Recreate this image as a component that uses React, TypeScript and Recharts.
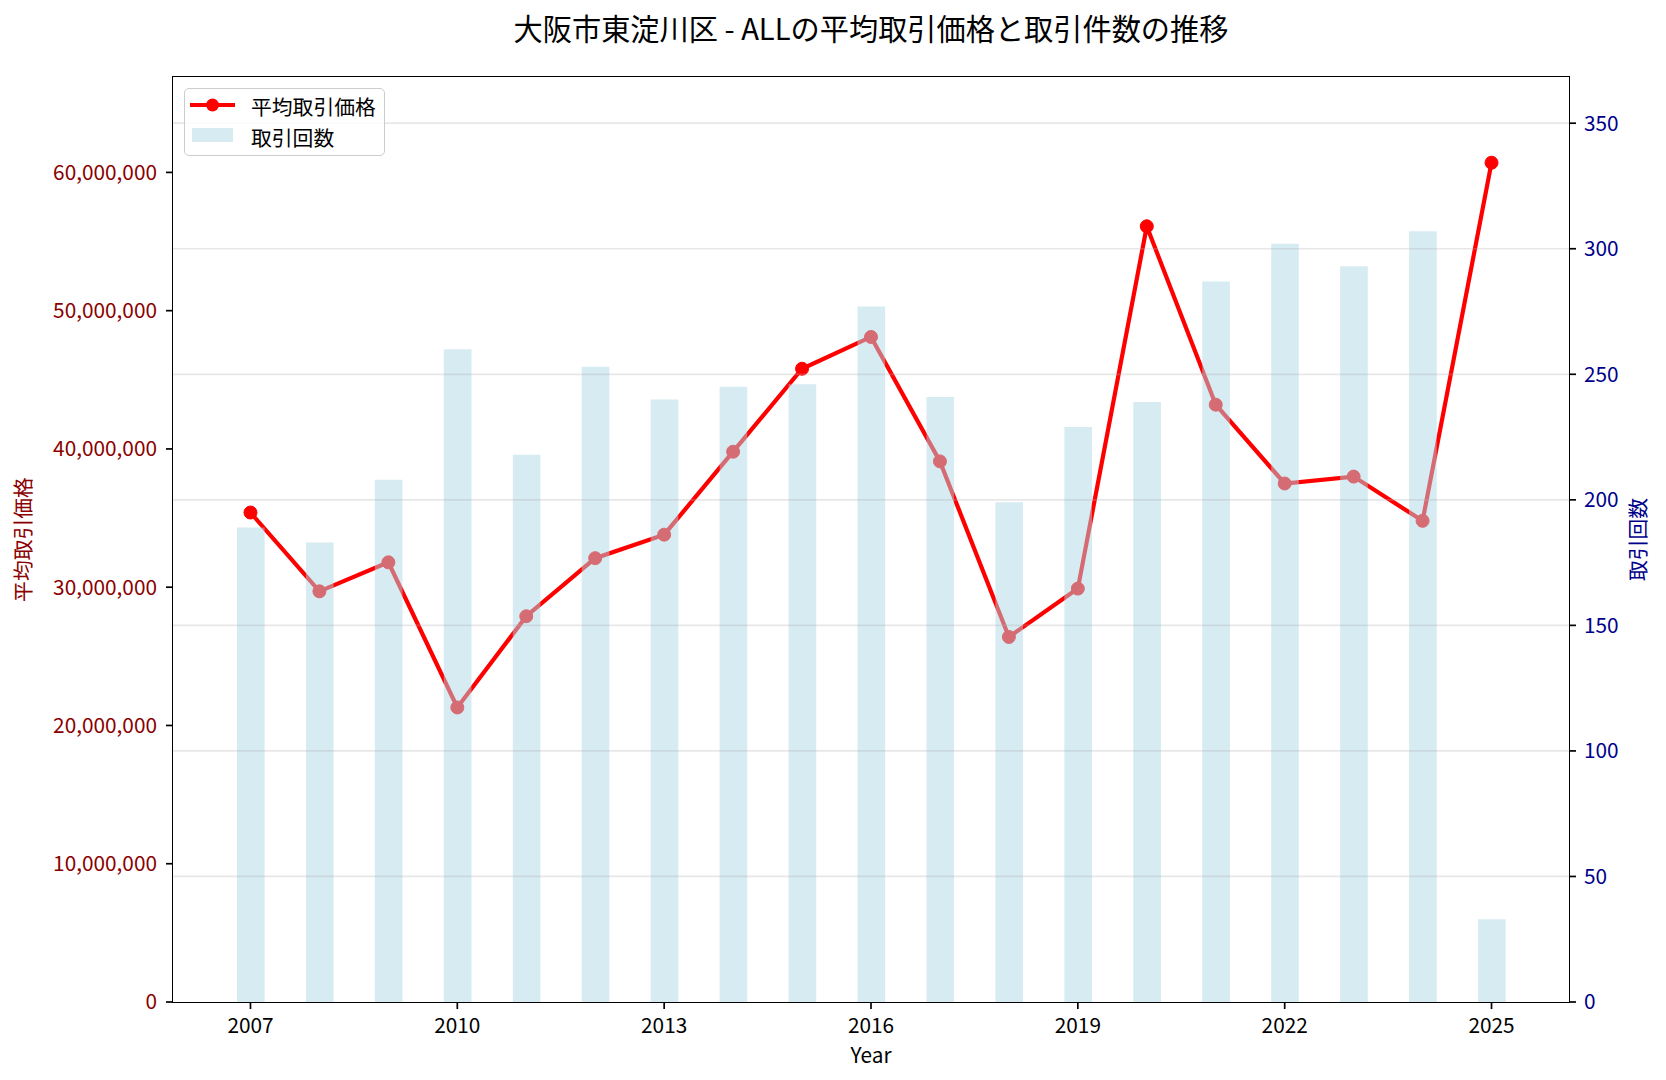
import React from 'react';
import { ComposedChart, Line, Bar, XAxis, YAxis, ReferenceLine } from 'recharts';

const years = ['2007', '2008', '2009', '2010', '2011', '2012', '2013', '2014', '2015', '2016', '2017', '2018', '2019', '2020', '2021', '2022', '2023', '2024', '2025'];
const avgPrices = [35400000, 29700000, 31800000, 21300000, 27900000, 32100000, 33800000, 39800000, 45800000, 48100000, 39100000, 26400000, 29900000, 56100000, 43200000, 37500000, 38000000, 34800000, 60700000];
const counts = [189, 183, 208, 260, 218, 253, 240, 245, 246, 277, 241, 199, 229, 239, 287, 302, 293, 307, 33];
const xTickLabels = ['2007', '2010', '2013', '2016', '2019', '2022', '2025'];
const priceTicks = [0, 10000000, 20000000, 30000000, 40000000, 50000000, 60000000];
const countTicks = [0, 50, 100, 150, 200, 250, 300, 350];

const TITLE = '大阪市東淀川区 - ALLの平均取引価格と取引件数の推移';
const PRICE_LABEL = '平均取引価格';
const COUNT_LABEL = '取引回数';

const data = years.map((y, i) => ({ year: y, price: avgPrices[i], count: counts[i] }));

const W = 1650;
const H = 1064;
const PL = 165;
const PT = 69;
const PR = 1561;
const PB = 994;
const FS = 20.8;
const FONT = '"Noto Sans CJK JP", "Noto Sans", sans-serif';

const barProps: any = { zIndex: 1500 };
const gridProps: any = { zIndex: 1510 };

export default function App() {
  return (
    <div style={{ position: 'relative', width: W, height: H, fontFamily: FONT, background: '#fff' }}>
      <ComposedChart
        width={W}
        height={H}
        data={data}
        margin={{ top: PT, right: 0, bottom: 0, left: 0 }}
        style={{ fontFamily: FONT }}
      >
        <XAxis
          dataKey="year"
          type="category"
          ticks={xTickLabels}
          interval={0}
          padding={{ left: 43, right: 43 }}
          height={H - PB}
          axisLine={false}
          tickLine={{ stroke: '#000', strokeWidth: 1.7 }}
          tickSize={7}
          tickMargin={9}
          tick={{ fill: '#000', fontSize: FS }}
          label={{ value: 'Year', position: 'insideBottom', offset: 9, fill: '#000', fontSize: FS }}
        />
        <YAxis
          yAxisId="left"
          orientation="left"
          width={PL}
          domain={[0, 66900000]}
          ticks={priceTicks}
          allowDataOverflow
          axisLine={false}
          tickLine={{ stroke: '#000', strokeWidth: 1.7 }}
          tickSize={7}
          tickMargin={9}
          tick={{ fill: '#8b0000', fontSize: FS }}
          tickFormatter={(v: number) => v.toLocaleString('en-US')}
          label={{ value: PRICE_LABEL, angle: -90, position: 'insideLeft', offset: 16, fill: '#8b0000', fontSize: FS, style: { textAnchor: 'middle' } }}
        />
        <YAxis
          yAxisId="right"
          orientation="right"
          width={W - PR}
          domain={[0, 368.4]}
          ticks={countTicks}
          allowDataOverflow
          axisLine={false}
          tickLine={{ stroke: '#000', strokeWidth: 1.7 }}
          tickSize={7}
          tickMargin={8}
          tick={{ fill: '#00008b', fontSize: FS }}
          label={{ value: COUNT_LABEL, angle: -90, position: 'insideRight', offset: 19, fill: '#00008b', fontSize: FS, style: { textAnchor: 'middle' } }}
        />
        <Line
          yAxisId="left"
          dataKey="price"
          type="linear"
          stroke="#ff0000"
          strokeWidth={4.2}
          dot={{ r: 6.5, fill: '#ff0000', stroke: '#ff0000', strokeWidth: 1 }}
          activeDot={false}
          isAnimationActive={false}
        />
        <Bar
          yAxisId="right"
          dataKey="count"
          fill="#add8e6"
          fillOpacity={0.5}
          barSize={27.6}
          isAnimationActive={false}
          {...barProps}
        />
        {countTicks.filter((t) => t > 0).map((t) => (
          <ReferenceLine key={t} yAxisId="right" y={t} stroke="#b0b0b0" strokeOpacity={0.3} strokeWidth={1.7} {...gridProps} />
        ))}
      </ComposedChart>

      <div
        style={{
          position: 'absolute',
          left: PL - 1,
          top: PT - 1,
          width: PR - PL + 2,
          height: PB - PT + 2,
          border: '1.7px solid #000',
          boxSizing: 'border-box',
          pointerEvents: 'none',
        }}
      />

      <div
        style={{
          position: 'absolute',
          left: PL,
          width: PR - PL,
          top: 19 - 20,
          height: 40,
          lineHeight: '40px',
          textAlign: 'center',
          fontSize: 29.2,
          color: '#000',
          whiteSpace: 'nowrap',
        }}
      >
        {TITLE}
      </div>

      <div
        style={{
          position: 'absolute',
          left: 176,
          top: 80,
          width: 201,
          height: 68,
          border: '1.7px solid #cccccc',
          borderRadius: 5,
          background: 'rgba(255,255,255,0.8)',
          boxSizing: 'border-box',
          fontSize: FS,
          color: '#000',
        }}
      >
        <svg width={201} height={68} style={{ position: 'absolute', left: -1.7, top: -1.7 }}>
          <line x1={7} y1={18} x2={52} y2={18} stroke="#ff0000" strokeWidth={4.2} />
          <circle cx={29.5} cy={18} r={6.5} fill="#ff0000" />
          <rect x={9} y={41} width={41} height={14} fill="#add8e6" fillOpacity={0.5} />
        </svg>
        <div style={{ position: 'absolute', left: 66, top: 2, height: 30, lineHeight: '30px', whiteSpace: 'nowrap' }}>{PRICE_LABEL}</div>
        <div style={{ position: 'absolute', left: 66, top: 33, height: 30, lineHeight: '30px', whiteSpace: 'nowrap' }}>{COUNT_LABEL}</div>
      </div>
    </div>
  );
}
